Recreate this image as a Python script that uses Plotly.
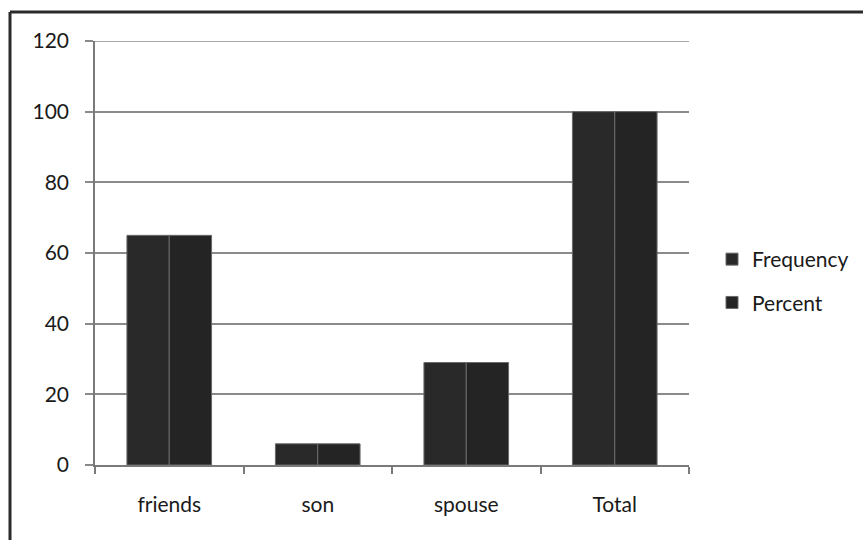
import plotly.graph_objects as go

categories = ["friends", "son", "spouse", "Total"]
frequency = [65, 6, 29, 100]
percent = [65, 6, 29, 100]
y_ticks = [0, 20, 40, 60, 80, 100, 120]

W, H = 863, 540
ML, MR, MT, MB = 95, 174, 41, 75
PW, PH = W - ML - MR, H - MT - MB

FONT = dict(family="Lato, 'Open Sans', sans-serif", size=21, color="#1a1a1a")

fig = go.Figure()
fig.add_trace(go.Bar(
    name="Frequency", x=categories, y=frequency, legendgroup="f",
    marker=dict(color="#292929", line=dict(color="#6a6a6a", width=1)),
))
fig.add_trace(go.Bar(
    name="Percent", x=categories, y=percent, legendgroup="p",
    marker=dict(color="#242424", line=dict(color="#6a6a6a", width=1)),
))


def px_x(p):
    return (p - ML) / PW


def px_y(p):
    return (H - MB - p) / PH


# outer frame: top and left edges
frame = dict(type="line", xref="paper", yref="paper",
             line=dict(color="#2a2a2a", width=3), layer="above")
fig.add_shape(**frame, x0=px_x(10), x1=px_x(W + 5), y0=px_y(12), y1=px_y(12))
fig.add_shape(**frame, x0=px_x(10), x1=px_x(10), y0=px_y(12), y1=px_y(H + 5))

# gridline at the top of the value range
fig.add_shape(type="line", xref="paper", yref="y", x0=0, x1=1,
              y0=y_ticks[-1], y1=y_ticks[-1],
              line=dict(color="#8a8a8a", width=1.5), layer="below")

fig.update_layout(
    width=W, height=H,
    margin=dict(l=ML, r=MR, t=MT, b=MB, autoexpand=False),
    paper_bgcolor="white", plot_bgcolor="white",
    barmode="group", bargap=0.43, bargroupgap=0,
    font=FONT,
    showlegend=True,
    legend=dict(
        x=px_x(712), y=px_y(239), xanchor="left", yanchor="top",
        font=dict(size=21, color="#1a1a1a"),
        tracegroupgap=13, itemwidth=30,
        bgcolor="rgba(0,0,0,0)",
    ),
    xaxis=dict(
        type="category", showgrid=False, showline=True,
        linecolor="#7a7a7a", linewidth=1.5,
        ticks="outside", tickson="boundaries", ticklen=7,
        tickcolor="#7a7a7a", tickwidth=1.5,
        ticklabelstandoff=20,
    ),
    yaxis=dict(
        range=[0, 120], tickvals=y_ticks, showgrid=True,
        gridcolor="#8a8a8a", gridwidth=1.5,
        showline=True, linecolor="#7a7a7a", linewidth=1.5,
        ticks="outside", ticklen=8, tickcolor="#8a8a8a", tickwidth=1.5,
        ticklabelstandoff=12, zeroline=False,
    ),
)

fig.write_html("out.html")
